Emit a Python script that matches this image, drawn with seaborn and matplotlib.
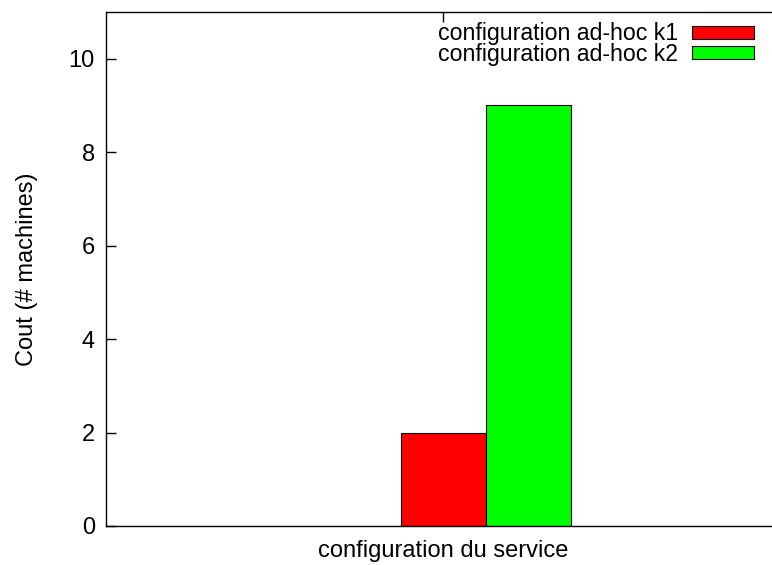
import matplotlib
matplotlib.use("Agg")
import matplotlib.pyplot as plt
import seaborn as sns
import pandas as pd

groupes = ["configuration du service", "configuration du service"]
configs = ["configuration ad-hoc k1", "configuration ad-hoc k2"]
couts = [2, 9]
couleurs = ["#ff0000", "#00ff00"]

df = pd.DataFrame({"groupe": groupes, "config": configs, "cout": couts})

sns.set_theme(style="white")
plt.rcParams["font.family"] = ["Liberation Sans", "DejaVu Sans"]
plt.rcParams["font.size"] = 17
plt.rcParams["text.color"] = "black"
plt.rcParams["axes.labelcolor"] = "black"

fig = plt.figure(figsize=(7.72, 5.65), dpi=100)
ax = fig.add_axes([106 / 772, 39 / 565, 1 - 106 / 772, 514 / 565])

sns.barplot(data=df, x="groupe", y="cout", hue="config", palette=couleurs,
            width=0.8, edgecolor="black", linewidth=0.8, saturation=1, ax=ax)

# gnuplot style: tick label sits under the first bar of the cluster
p0 = ax.patches[0]
ax.set_xticks([p0.get_x() + p0.get_width() / 2])
ax.set_xticklabels([groupes[0]])
ax.set_xlim(-1.788, 1.346)
ax.set_ylim(0, 11)
ax.set_yticks([0, 2, 4, 6, 8, 10])
ax.set_xlabel("")
ax.set_ylabel("Cout (# machines)", fontsize=17, labelpad=22, color="black")

for side in ["left", "bottom", "top"]:
    ax.spines[side].set_visible(True)
    ax.spines[side].set_color("black")
    ax.spines[side].set_linewidth(1.0)
ax.spines["right"].set_visible(False)

ax.tick_params(axis="both", direction="in", length=7, width=1, colors="black",
               labelsize=17, pad=8)
ax.tick_params(axis="x", top=True, bottom=True, length=7, pad=10)
ax.tick_params(axis="y", left=True, right=False)

handles, labels = ax.get_legend_handles_labels()
ax.legend(handles, labels, loc="upper right", bbox_to_anchor=(0.988, 1.0),
          frameon=False, markerfirst=False, handlelength=2.65, handleheight=0.5,
          handletextpad=0.6, labelspacing=-0.1, fontsize=16.7, borderaxespad=0.05)

plt.savefig("out.png", dpi=100)
